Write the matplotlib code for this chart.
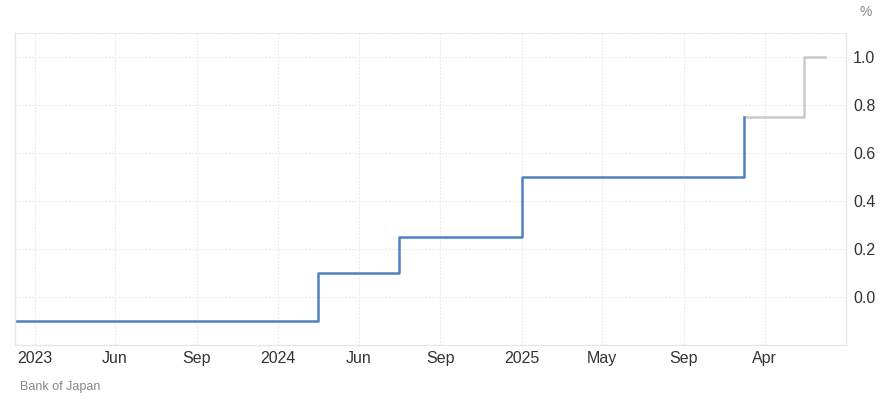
import pandas as pd
import matplotlib.pyplot as plt

plt.rcParams['font.family'] = ['Liberation Sans', 'DejaVu Sans']

# policy rate change points (step, value holds until next point)
actual_dates = pd.to_datetime(['2022-12-01', '2024-03-01', '2024-07-01', '2025-01-01', '2025-12-01'])
actual_rate = [-0.1, 0.1, 0.25, 0.5, 0.75]

forecast_dates = pd.to_datetime(['2025-12-01', '2026-03-01', '2026-04-01'])
forecast_rate = [0.75, 1.0, 1.0]

tick_dates = pd.to_datetime(['2023-01-01', '2023-05-01', '2023-09-01', '2024-01-01', '2024-05-01',
                             '2024-09-01', '2025-01-01', '2025-05-01', '2025-09-01', '2026-01-01'])
tick_labels = ['2023', 'Jun', 'Sep', '2024', 'Jun', 'Sep', '2025', 'May', 'Sep', 'Apr']

fig = plt.figure(figsize=(8.88, 4.05), dpi=100)
ax = fig.add_axes([15 / 888, 1 - 345 / 405, (846 - 15) / 888, (345 - 33) / 405])

ax.step(forecast_dates, forecast_rate, where='post', color='#cacaca', linewidth=1.8)
ax.step(actual_dates, actual_rate, where='post', color='#4f81c3', linewidth=1.8)

ax.set_xlim(pd.Timestamp('2022-12-02'), pd.Timestamp('2026-05-03'))
ax.set_ylim(-0.2, 1.1)
ax.set_yticks([0.0, 0.2, 0.4, 0.6, 0.8, 1.0])
ax.set_yticklabels(['0.0', '0.2', '0.4', '0.6', '0.8', '1.0'])
ax.set_xticks(tick_dates)
ax.set_xticklabels(tick_labels)

ax.yaxis.tick_right()
ax.tick_params(axis='both', length=0, labelsize=11.5, colors='#333333')
ax.tick_params(axis='y', pad=5)
ax.tick_params(axis='x', pad=4)

ax.grid(True, color='#e8e8e8', linestyle=(0, (1.5, 1.5)), linewidth=0.8)
for side in ['left', 'bottom', 'right']:
    ax.spines[side].set_color('#e6e6e6')
    ax.spines[side].set_linewidth(1)
ax.spines['top'].set_color('#e8e8e8')
ax.spines['top'].set_linestyle((0, (1.5, 1.5)))
ax.spines['top'].set_linewidth(0.8)

fig.text(866 / 888, 1 - 12 / 405, '%', fontsize=10, color='#888888', ha='center', va='center')
fig.text(20 / 888, 1 - 387 / 405, 'Bank of Japan', fontsize=9, color='#888888', ha='left', va='center')

fig.savefig('out.png', dpi=100)
